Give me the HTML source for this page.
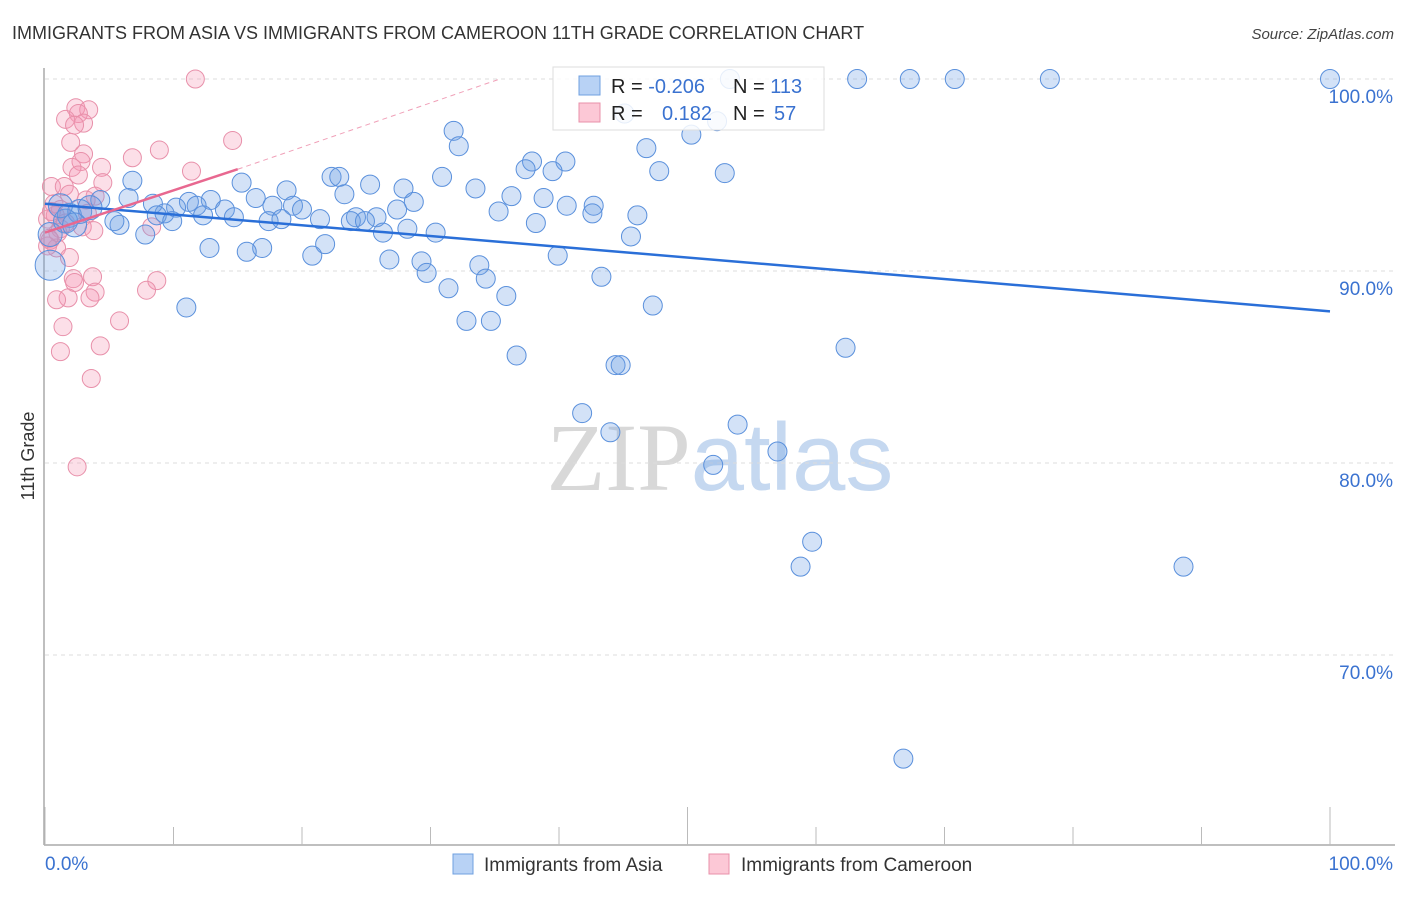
<!DOCTYPE html>
<html><head><meta charset="utf-8"><style>
html,body{margin:0;padding:0;background:#fff;}
body{width:1406px;height:892px;overflow:hidden;font-family:"Liberation Sans",sans-serif;}
</style></head><body>
<svg id="chart" width="1406" height="892" xmlns="http://www.w3.org/2000/svg" font-family="Liberation Sans, sans-serif">
<text x="12" y="39" font-size="18" fill="#333">IMMIGRANTS FROM ASIA VS IMMIGRANTS FROM CAMEROON 11TH GRADE CORRELATION CHART</text>
<text x="1394" y="39" font-size="15" fill="#444" text-anchor="end" font-style="italic">Source: ZipAtlas.com</text>
<text transform="translate(34,456) rotate(-90)" font-size="18" fill="#333" text-anchor="middle">11th Grade</text>
<text x="720" y="490" font-size="96" text-anchor="middle"><tspan fill="#d8d8d8" font-family="Liberation Serif, serif">ZIP</tspan><tspan fill="#c5d8f0">atlas</tspan></text>
<g id="grid"></g>
<g id="axes"></g>
<g id="pinkPts"></g>
<g id="bluePts"></g>
<g id="trends"></g>
<g>
<rect x="553" y="67" width="271" height="63" fill="#fff" fill-opacity="0.85" stroke="#ddd"/>
<rect x="579" y="76" width="21" height="19" fill="#b8d2f5" stroke="#6fa0e0"/>
<rect x="579" y="103" width="21" height="19" fill="#fcc8d6" stroke="#e890aa"/>
<text x="611" y="93" font-size="20" fill="#222">R = <tspan fill="#3a72d0">-0.206</tspan></text>
<text x="733" y="93" font-size="20" fill="#222">N = <tspan fill="#3a72d0">113</tspan></text>
<text x="611" y="120" font-size="20" fill="#222">R = <tspan fill="#3a72d0" x="662">0.182</tspan></text>
<text x="733" y="120" font-size="20" fill="#222">N = <tspan fill="#3a72d0" x="774">57</tspan></text>
</g>
<g>
<rect x="453" y="854" width="20" height="20" fill="#b8d2f5" stroke="#6fa0e0"/>
<text x="484" y="871" font-size="19" fill="#333">Immigrants from Asia</text>
<rect x="709" y="854" width="20" height="20" fill="#fcc8d6" stroke="#e890aa"/>
<text x="741" y="871" font-size="19" fill="#333">Immigrants from Cameroon</text>
</g>
</svg>
<script>
const blueX=[100,78.2,70.8,67.3,63.2,53.3,45.1,52.3,31.8,50.3,32.2,46.8,37.9,40.5,37.4,39.5,47.8,52.9,30.9,22.3,22.9,15.3,6.8,25.3,33.5,27.9,18.8,23.3,36.3,38.8,6.5,12.9,16.4,28.7,4.3,8.4,11.2,11.8,17.7,19.3,40.6,42.7,10.2,14.0,20.0,27.4,35.3,42.6,46.1,9.3,8.7,12.3,14.7,21.4,24.2,25.8,23.8,24.9,17.4,18.4,38.2,5.8,5.4,9.9,28.2,26.3,30.4,7.8,45.6,21.8,12.8,16.9,15.7,39.9,20.8,26.8,29.3,33.8,29.7,34.3,43.3,31.4,35.9,11.0,47.3,32.8,34.7,62.3,36.7,44.4,44.8,41.8,44.0,53.9,57.0,52.0,59.7,58.8,88.6,66.8,0.4,0.4,1.9,2.7,3.5,1.6,1.2,2.3];
const blueY=[100,100,100,100,100,100,98.2,97.8,97.3,97.1,96.5,96.4,95.7,95.7,95.3,95.2,95.2,95.1,94.9,94.9,94.9,94.6,94.7,94.5,94.3,94.3,94.2,94.0,93.9,93.8,93.8,93.7,93.8,93.6,93.7,93.5,93.6,93.4,93.4,93.4,93.4,93.4,93.3,93.2,93.2,93.2,93.1,93.0,92.9,93.0,92.9,92.9,92.8,92.7,92.8,92.8,92.6,92.6,92.6,92.7,92.5,92.4,92.6,92.6,92.2,92.0,92.0,91.9,91.8,91.4,91.2,91.2,91.0,90.8,90.8,90.6,90.5,90.3,89.9,89.6,89.7,89.1,88.7,88.1,88.2,87.4,87.4,86.0,85.6,85.1,85.1,82.6,81.6,82.0,80.6,79.9,75.9,74.6,74.6,64.6,90.3,91.9,92.9,93.1,93.3,92.6,93.4,92.4];
const pinkX=[11.7,2.4,3.4,2.6,1.6,3.0,2.3,2.0,14.6,8.9,6.8,3.0,2.8,2.1,4.4,2.6,11.4,4.5,0.5,1.5,1.9,3.9,3.2,0.7,1.2,3.3,0.2,2.9,3.8,8.3,0.4,0.9,1.9,3.7,2.2,2.3,8.7,7.9,3.9,3.5,1.8,0.9,5.8,1.4,4.3,1.2,3.6,2.5,0.8,1.2,0.2,1.6,0.5,1.0,0.3];
const pinkY=[100,98.5,98.4,98.2,97.9,97.7,97.6,96.7,96.8,96.3,95.9,96.1,95.7,95.4,95.4,95.0,95.2,94.6,94.4,94.4,94.0,93.9,93.7,93.5,93.2,93.0,92.7,92.3,92.1,92.3,91.6,91.2,90.7,89.7,89.6,89.4,89.5,89.0,88.9,88.6,88.6,88.5,87.4,87.1,86.1,85.8,84.4,79.8,92.9,92.2,91.3,92.5,93.1,92.0,91.7];
const yTicks=[100,90,80,70];
const yTickLabels=["100.0%","90.0%","80.0%","70.0%"];
const xTicks=[0,10,20,30,40,50,60,70,80,90,100];
const blueTrend=[[0,93.5],[100,87.9]];
const pinkTrendSolid=[[0,92.0],[15,95.3]];
const pinkTrendDash=[[15,95.3],[35.4,100]];
const X=v=>45+v*12.85, Y=v=>79+(100-v)*19.2;
const NS="http://www.w3.org/2000/svg";
function mk(parent,tag,attrs){const e=document.createElementNS(NS,tag);for(const k in attrs)e.setAttribute(k,attrs[k]);document.getElementById(parent).appendChild(e);return e;}
yTicks.forEach((t,i)=>{
 const l=mk('grid','line',{x1:45,x2:1395,y1:Y(t),y2:Y(t),stroke:'#ddd','stroke-dasharray':'4,4'});
 
 
 const tx=mk('grid','text',{x:1393,y:Y(t)+24,'font-size':19,fill:'#3a72d0','text-anchor':'end'});
 tx.textContent=yTickLabels[i];
 
 
});
let a=mk('axes','line',{x1:44,x2:44,y1:68,y2:845,stroke:'#aaa','stroke-width':1.5});


a=mk('axes','line',{x1:44,x2:1395,y1:845,y2:845,stroke:'#aaa','stroke-width':1.5});


xTicks.forEach(t=>{
 const major=(t%50===0);
 const l=mk('axes','line',{x1:X(t),x2:X(t),y1:major?807:827,y2:845,stroke:'#bbb'});
 
 
});
let t0=mk('axes','text',{x:45,y:870,'font-size':19,fill:'#3a72d0'});t0.textContent='0.0%';


let t1=mk('axes','text',{x:1393,y:870,'font-size':19,fill:'#3a72d0','text-anchor':'end'});t1.textContent='100.0%';


pinkX.forEach((x,i)=>{
 const c=mk('pinkPts','circle',{cx:X(x),cy:Y(pinkY[i]),r:9,fill:'rgba(245,150,180,0.3)',stroke:'#e890aa','stroke-width':1});
 
 
});
blueX.forEach((x,i)=>{
 const big=i>=100;
 const c=mk('bluePts','circle',{cx:X(x),cy:Y(blueY[i]),r:big?(i===100?15:12):9.5,fill:'rgba(110,160,230,0.3)',stroke:'#5a90dc','stroke-width':1});
 
 
});
let tl=mk('trends','line',{x1:X(blueTrend[0][0]),y1:Y(blueTrend[0][1]),x2:X(blueTrend[1][0]),y2:Y(blueTrend[1][1]),stroke:'#2a6fd8','stroke-width':2.5});


tl=mk('trends','line',{x1:X(pinkTrendSolid[0][0]),y1:Y(pinkTrendSolid[0][1]),x2:X(pinkTrendSolid[1][0]),y2:Y(pinkTrendSolid[1][1]),stroke:'#e86890','stroke-width':2.5});


tl=mk('trends','line',{x1:X(pinkTrendDash[0][0]),y1:Y(pinkTrendDash[0][1]),x2:X(pinkTrendDash[1][0]),y2:Y(pinkTrendDash[1][1]),stroke:'#f0a0b8','stroke-width':1,'stroke-dasharray':'5,4'});


</script>
</body></html>
